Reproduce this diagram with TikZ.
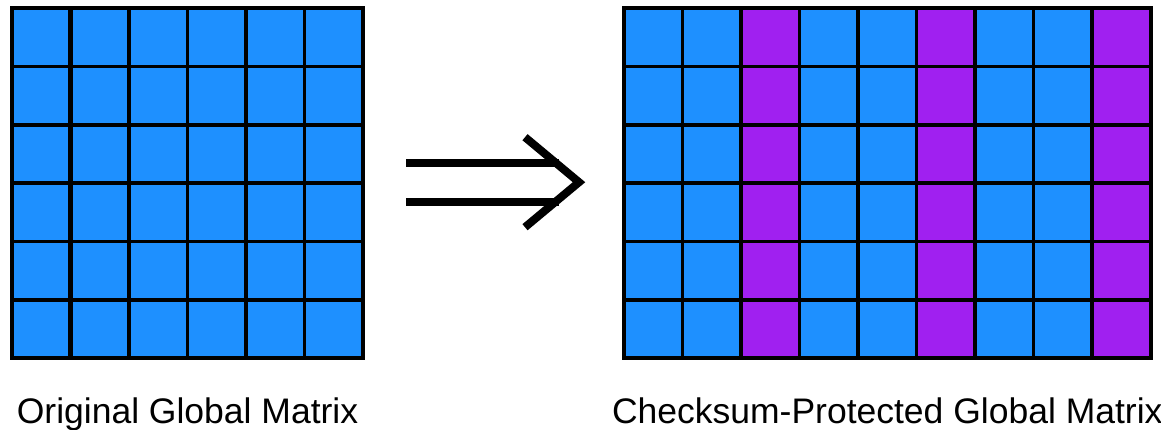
\documentclass[tikz,border=0pt]{standalone}
\usepackage{fontspec}
\setmainfont{Liberation Sans}
\usetikzlibrary{calc}
\definecolor{cellblue}{HTML}{1E90FF}
\definecolor{cellpurple}{HTML}{A020F0}
\tikzset{
  gridframe/.style={fill=cellblue, inner sep=0pt, outer sep=0pt, anchor=north west},
  gridline/.style={line width=3.5pt},
  gridborder/.style={line width=4pt},
  dblline/.style={line width=8pt, double, double distance=31pt},
  chevron/.style={line width=8pt, line join=miter},
  caption/.style={anchor=base, font=\fontsize{35.5}{40}\selectfont},
}

\begin{document}
\begin{tikzpicture}[x=1pt,y=-1pt]
\useasboundingbox (0,0) rectangle (1161,429);

% original matrix, 6 x 6 blocks
\node[gridframe, minimum width=351pt, minimum height=350.4pt] (orig) at (12,8) {};
\foreach \i in {1,...,5} {
  \draw[gridline] ($(orig.north west)+(58.5*\i,0)$) -- ($(orig.south west)+(58.5*\i,0)$);
  \draw[gridline] ($(orig.north west)+(0,58.4*\i)$) -- ($(orig.north east)+(0,58.4*\i)$);
}
\draw[gridline, line width=5.5pt] ($(orig.north west)+(58.5,0)$) -- ($(orig.south west)+(58.5,0)$);
\draw[gridborder] (orig.north west) rectangle (orig.south east);

% protected matrix, every third column holds checksums
\node[gridframe, minimum width=526.5pt, minimum height=350.4pt] (prot) at (624,8) {};
\foreach \c in {2,5,8}
  \fill[cellpurple] ($(prot.north west)+(58.5*\c,0)$) rectangle ($(prot.south west)+(58.5*\c+58.5,0)$);
\foreach \i in {1,...,8}
  \draw[gridline] ($(prot.north west)+(58.5*\i,0)$) -- ($(prot.south west)+(58.5*\i,0)$);
\foreach \i in {1,...,5}
  \draw[gridline] ($(prot.north west)+(0,58.4*\i)$) -- ($(prot.north east)+(0,58.4*\i)$);
\draw[gridborder] (prot.north west) rectangle (prot.south east);

% arrow
\coordinate (tip) at ($(prot.west)+(-45,-1)$);
\draw[dblline] ($(orig.east)+(43,-1)$) -- ($(tip)+(-20,0)$);
\draw[chevron] ($(tip)+(-54,-45)$) -- (tip) -- ($(tip)+(-54,45)$);

\node[caption] (origlabel) at ($(orig.south)+(0,64.6)$) {Original Global Matrix};
\node[caption] (protlabel) at ($(prot.south)+(0,64.6)$) {Checksum-Protected Global Matrix};

\end{tikzpicture}
\end{document}
